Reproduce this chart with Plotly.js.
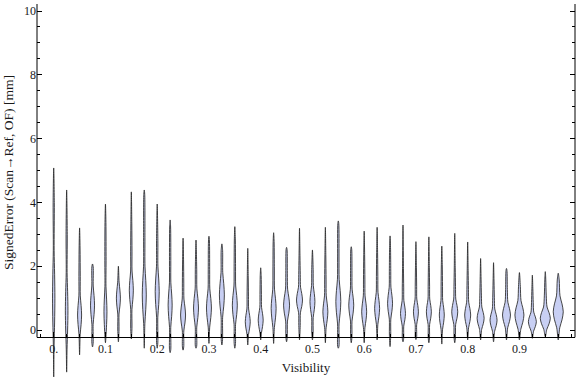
<!DOCTYPE html>
<html>
<head>
<meta charset="utf-8">
<script src="https://cdn.plot.ly/plotly-3.0.1.min.js"></script>
<style>
html,body{margin:0;padding:0;background:#fff;}
#chart{width:576px;height:377px;}
</style>
</head>
<body>
<div id="chart"></div>
<script>
// Bin centres (Visibility)
const positions = [0.000,0.025,0.050,0.075,0.100,0.125,0.150,0.175,0.200,0.225,
                   0.250,0.275,0.300,0.325,0.350,0.375,0.400,0.425,0.450,0.475,
                   0.500,0.525,0.550,0.575,0.600,0.625,0.650,0.675,0.700,0.725,
                   0.750,0.775,0.800,0.825,0.850,0.875,0.900,0.925,0.950,0.975];
// Largest signed error per bin [mm]
const maxVals = [5.08,4.39,3.20,2.07,3.95,2.00,4.33,4.39,3.95,3.45,
                 2.88,2.82,2.94,2.70,3.24,2.56,1.95,3.05,2.59,3.19,
                 2.51,3.22,3.42,2.61,3.10,3.22,2.95,3.29,2.77,2.92,
                 2.63,3.03,2.76,2.24,2.11,1.93,1.80,1.72,1.83,1.78];
// Smallest signed error per bin [mm]
const minVals = [-1.47,-1.32,-0.78,-0.53,-0.40,-0.37,-0.28,-0.57,-0.57,-0.71,
                 -0.63,-0.57,-0.42,-0.47,-0.57,-0.47,-0.31,-0.42,-0.37,-0.31,
                 -0.31,-0.40,-0.57,-0.40,-0.40,-0.31,-0.52,-0.37,-0.30,-0.40,
                 -0.44,-0.40,-0.31,-0.31,-0.37,-0.31,-0.31,-0.26,-0.21,-0.31];
// Most frequent signed error (density peak) per bin [mm]
const modeVals = [1.00,0.60,0.47,0.78,0.57,1.00,1.25,1.10,1.20,0.78,
                  0.47,0.69,0.69,1.10,0.78,0.26,0.31,0.68,0.78,0.94,
                  0.89,0.57,0.89,0.78,0.57,0.68,0.84,0.52,0.57,0.57,
                  0.47,0.57,0.47,0.37,0.31,0.47,0.47,0.26,0.37,0.57];
// Peak density half-width (in Visibility units)
const peakWidth = [0.0023,0.0025,0.0039,0.0039,0.0029,0.0039,0.0039,0.0039,0.0039,0.0039,
                   0.0048,0.0048,0.0048,0.0048,0.0048,0.0048,0.0048,0.0048,0.0058,0.0058,
                   0.0048,0.0048,0.0048,0.0048,0.0048,0.0048,0.0048,0.0048,0.0048,0.0048,
                   0.0048,0.0058,0.0058,0.0068,0.0068,0.0077,0.0087,0.0077,0.0097,0.0097];
// Vertical spread of the density bulge [mm]
const spreadVals = [1.50,1.20,0.60,0.60,0.80,0.50,0.60,0.90,0.80,0.70,
                    0.50,0.60,0.60,0.70,0.60,0.40,0.40,0.60,0.50,0.40,
                    0.50,0.50,0.70,0.50,0.50,0.50,0.50,0.40,0.40,0.40,
                    0.45,0.40,0.40,0.35,0.35,0.40,0.45,0.30,0.35,0.50];

const xTickVals = [0,0.1,0.2,0.3,0.4,0.5,0.6,0.7,0.8,0.9];
const xTickText = ["0.","0.1","0.2","0.3","0.4","0.5","0.6","0.7","0.8","0.9"];
const yTickVals = [0,2,4,6,8,10];

// build violin outlines
const traces = [];
const tail = 0.0009;
for (let i = 0; i < positions.length; i++) {
  const p = positions[i], lo = minVals[i], hi = maxVals[i], m = modeVals[i],
        w = peakWidth[i], s = spreadVals[i];
  const prof = [
    [m - 2.0*s, tail + 0.08*w],
    [m - 1.0*s, 0.3*w],
    [m - 0.5*s, 0.75*w],
    [m, w],
    [m + 0.5*s, 0.75*w],
    [m + 1.0*s, 0.35*w],
    [m + 2.0*s, tail + 0.1*w],
    [m + 3.5*s, tail]
  ].filter(pt => pt[0] > lo + 0.05 && pt[0] < hi - 0.05);
  const pts = [[lo, 0]].concat(prof).concat([[hi, 0]]);
  const xs = [], ys = [];
  for (let k = 0; k < pts.length; k++) { xs.push(p + pts[k][1]); ys.push(pts[k][0]); }
  for (let k = pts.length - 2; k >= 1; k--) { xs.push(p - pts[k][1]); ys.push(pts[k][0]); }
  xs.push(xs[0]); ys.push(ys[0]);
  traces.push({
    type: 'scatter', mode: 'lines', x: xs, y: ys,
    fill: 'toself', fillcolor: 'rgb(200,207,243)',
    line: {color: 'rgba(40,40,40,0.85)', width: 1, shape: 'spline', smoothing: 0.9},
    hoverinfo: 'skip', showlegend: false
  });
}

const font = {family: '"Liberation Serif", "Times New Roman", serif', size: 12, color: '#1a1a1a'};
const axPos = 0.1064;

const layout = {
  width: 576, height: 377,
  margin: {l: 37, r: 1, t: 4, b: 0, pad: 0},
  paper_bgcolor: '#fff', plot_bgcolor: '#fff',
  font: font,
  showlegend: false,
  xaxis: {
    range: [-0.0323, 1.0074],
    anchor: 'free', position: axPos,
    showgrid: false, zeroline: false,
    showline: true, linecolor: '#000', linewidth: 1,
    mirror: 'ticks',
    tickmode: 'array', tickvals: xTickVals, ticktext: xTickText,
    ticks: 'inside', ticklen: 5, tickcolor: '#000', tickwidth: 1,
    minor: {dtick: 0.025, tick0: 0, ticks: 'inside', ticklen: 3, tickcolor: '#000', showgrid: false},
    tickfont: font,
    title: {text: 'Visibility', font: {family: font.family, size: 13, color: '#1a1a1a'}, standoff: 8}
  },
  yaxis: {
    range: [-1.473, 10.22],
    showgrid: false, zeroline: false,
    showline: false,
    mirror: 'ticks',
    tickmode: 'array', tickvals: yTickVals,
    ticks: 'inside', ticklen: 5, tickcolor: '#000', tickwidth: 1,
    minor: {tickmode: 'array', tickvals: [0.5,1,1.5,2.5,3,3.5,4.5,5,5.5,6.5,7,7.5,8.5,9,9.5],
            ticks: 'inside', ticklen: 3, tickcolor: '#000', showgrid: false},
    tickfont: font
  },
  shapes: [
    {type: 'line', xref: 'paper', yref: 'paper', x0: 0, x1: 0, y0: axPos, y1: 1, line: {color: '#000', width: 1}},
    {type: 'line', xref: 'paper', yref: 'paper', x0: 1, x1: 1, y0: axPos, y1: 1, line: {color: '#000', width: 1}}
  ],
  annotations: [
    {text: 'SignedError (Scan\u2192Ref, OF) [mm]', xref: 'paper', yref: 'y', x: -0.054, y: 4.95,
     xanchor: 'center', yanchor: 'middle', textangle: -90, showarrow: false,
     font: {family: font.family, size: 13.5, color: '#1a1a1a'}}
  ]
};

Plotly.newPlot('chart', traces, layout, {displayModeBar: false, staticPlot: true});
</script>
</body>
</html>
